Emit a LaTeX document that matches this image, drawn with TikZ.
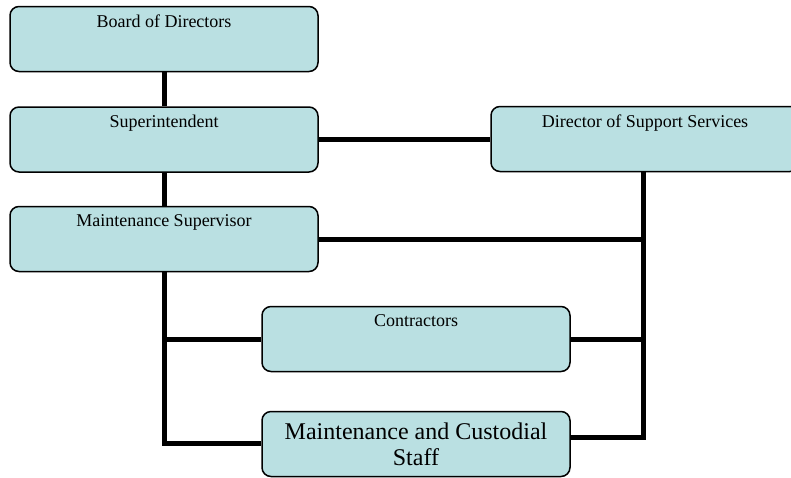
\documentclass[tikz,border=0pt]{standalone}
\usepackage{fontspec}
\setmainfont{Liberation Serif}
\usetikzlibrary{positioning}
\definecolor{boxfill}{RGB}{186,224,226}

\begin{document}
\begin{tikzpicture}[x=1pt,y=-1pt]
	\tikzset{unit/.style = {shape=rectangle, rounded corners=9pt, draw, line width=1.5pt, fill=boxfill, minimum width=308pt, minimum height=65pt, inner sep=0pt}}
	\tikzset{title/.style = {anchor=north, inner sep=0pt, yshift=-9pt, font=\fontsize{18}{20}\selectfont}}
	\tikzset{link/.style = {line width=5pt}}
	\useasboundingbox (0,0) rectangle (791,477);
	\clip (0,0) rectangle (791,477);
	
	% chain of command on the left
	\node[unit, label={[title]north:Board of Directors}] (BOARD) at (164,39) {};
	\node[unit, label={[title]north:Superintendent}, below=34pt of BOARD] (SUPER) {};
	\node[unit, label={[title]north:Maintenance Supervisor}, below=33pt of SUPER] (SUPERVISOR) {};
	\node[unit, label={[title]north:Director of Support Services}] (DIRECTOR) at (645,139) {};
	
	% staff level
	\node[unit, label={[title]north:Contractors}] (CONTRACT) at (416,339) {};
	\node[unit, label={[title, align=center, yshift=-3pt, font=\fontsize{24}{26}\selectfont]north:Maintenance and Custodial\\Staff}] (STAFF) at (416,444) {};
	
	\coordinate (LBUS) at (164,443);
	\coordinate (RBUS) at (643,437);
	
	\draw[link] (BOARD) -- (SUPER);
	\draw[link] (SUPER) -- (SUPERVISOR);
	\draw[link] (SUPER.east) -- (SUPER.east -| DIRECTOR.west);
	\draw[link] (DIRECTOR.south -| RBUS) -- (RBUS) -- (RBUS -| STAFF.east);
	\draw[link] (SUPERVISOR.east) -- (SUPERVISOR.east -| RBUS);
	\draw[link] (CONTRACT.east) -- (CONTRACT.east -| RBUS);
	\draw[link] (SUPERVISOR.south) -- (LBUS) -- (LBUS -| STAFF.west);
	\draw[link] (CONTRACT.west -| LBUS) -- (CONTRACT.west);
\end{tikzpicture}
\end{document}
